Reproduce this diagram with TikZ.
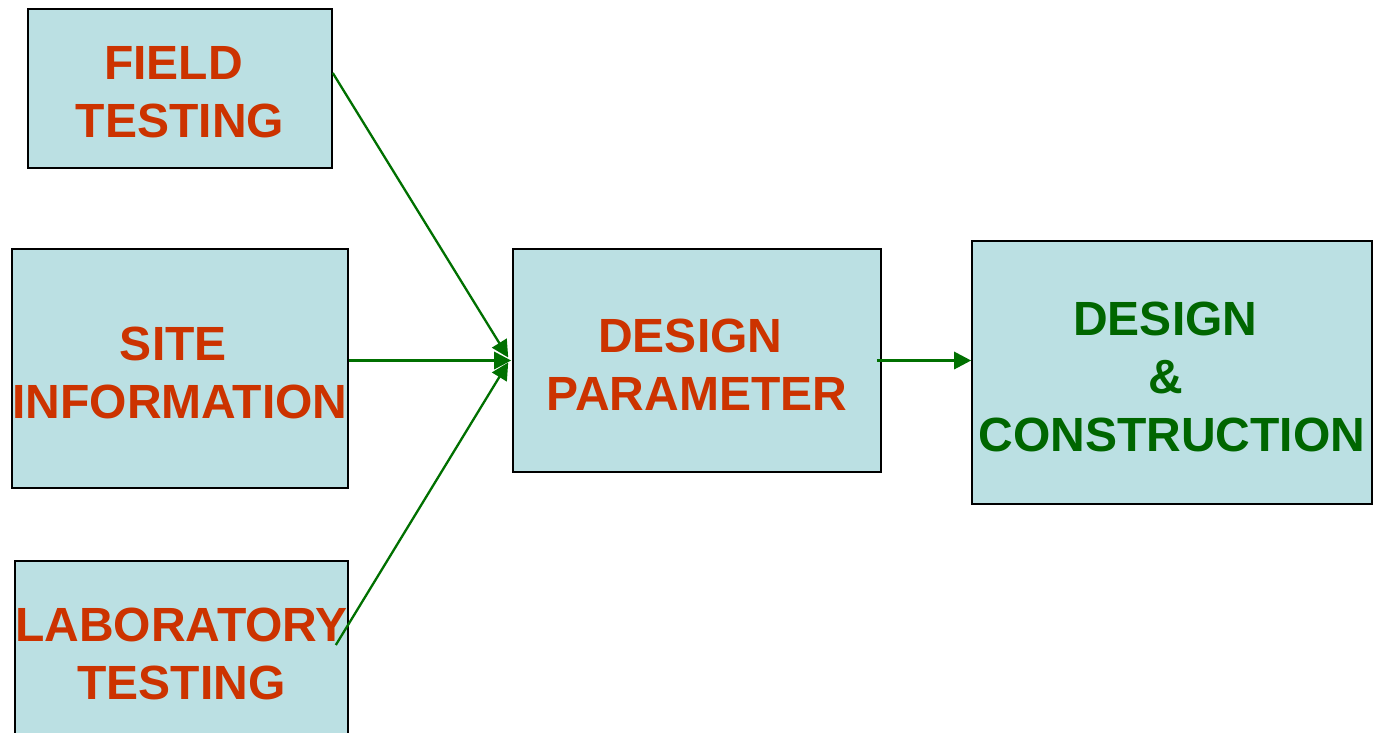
\documentclass[tikz,border=0pt]{standalone}
\usepackage{fontspec}
\setmainfont{Liberation Sans}
\usetikzlibrary{arrows.meta}
\definecolor{boxfill}{RGB}{187,224,227}
\definecolor{labelred}{RGB}{204,51,0}
\definecolor{labelgreen}{RGB}{0,102,0}
\definecolor{flowgreen}{RGB}{0,112,0}
% trailing space kept at the end of a line, as in the source slide
\newcommand{\trail}{\kern0.278em}
\tikzset{
  stage/.style={draw=black, line width=1.6pt, fill=boxfill, inner sep=0pt},
  stagetext/.style={align=center, inner sep=0pt, yshift=-4pt,
    font=\fontsize{48}{58}\selectfont\bfseries, text=labelred},
  greentext/.style={stagetext, text=labelgreen},
  flow/.style={draw=flowgreen, line width=2.3pt,
    -{Triangle[length=17pt,width=17pt]}},
  thickflow/.style={flow, line width=3pt}
}
\begin{document}
\begin{tikzpicture}[x=1pt,y=-1pt]
  \useasboundingbox (0,0) rectangle (1379,732);
  \clip (0,0) rectangle (1379,732);
  \fill[white] (0,0) rectangle (1379,732);

  % input stages
  \node[stage, minimum width=304pt, minimum height=159pt,
    label={[stagetext]center:FIELD\trail\\TESTING}] (field) at (180,88.5) {};
  \node[stage, minimum width=336pt, minimum height=239pt,
    label={[stagetext]center:SITE\trail\\INFORMATION}] (site) at (180,368.5) {};
  \node[stage, minimum width=333pt, minimum height=178pt,
    label={[stagetext]center:LABORATORY\\TESTING}] (lab) at (181.5,650) {};

  % middle and final stages
  \node[stage, minimum width=368pt, minimum height=223pt,
    label={[stagetext]center:DESIGN\trail\\PARAMETER}] (param) at (697,360.5) {};
  \node[stage, minimum width=400pt, minimum height=263pt,
    label={[greentext]center:DESIGN\trail\\\&\trail\\CONSTRUCTION}] (dc) at (1172,372.5) {};

  % connectors
  \draw[flow] ([yshift=15.5pt]field.east) -- ([xshift=-4pt,yshift=3pt]param.west);
  \draw[thickflow] (site.east |- param.west) -- ([xshift=-1pt]param.west);
  \draw[flow] ([xshift=-13pt,yshift=5pt]lab.east) -- ([xshift=-4pt,yshift=-2pt]param.west);
  \draw[thickflow] ([xshift=-5pt]param.east) -- (param.east -| dc.west);
\end{tikzpicture}
\end{document}
